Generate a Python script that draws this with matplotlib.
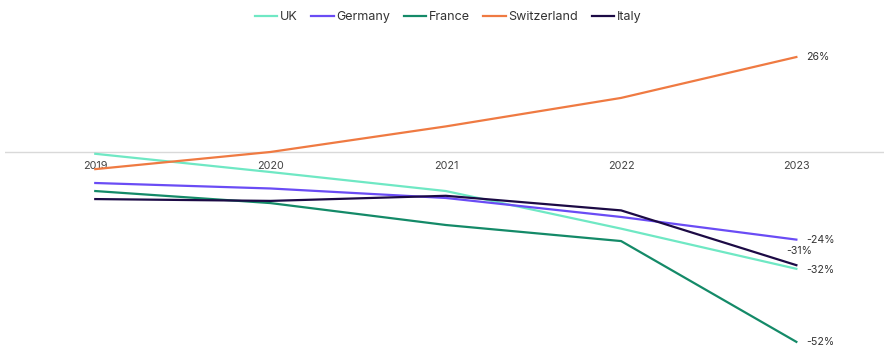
import matplotlib.pyplot as plt

plt.rcParams['font.family'] = ['Inter', 'DejaVu Sans']

years = ['2019', '2020', '2021', '2022', '2023']
uk = [-0.5, -5.5, -10.7, -21.0, -32]
germany = [-8.5, -10.0, -12.6, -17.8, -24]
france = [-10.7, -14.0, -20.0, -24.4, -52]
switzerland = [-4.7, 0.0, 7.0, 14.8, 26]
italy = [-12.9, -13.4, -12.0, -16.0, -31]

series = [
    ('UK', uk, '#6fe8c4'),
    ('Germany', germany, '#6a4cf5'),
    ('France', france, '#148a68'),
    ('Switzerland', switzerland, '#ef7a42'),
    ('Italy', italy, '#1c0a45'),
]

fig = plt.figure(figsize=(8.96, 3.64), dpi=100)
ax = fig.add_axes([5 / 896, 9 / 364, 879 / 896, 325 / 364])
for s in ax.spines.values():
    s.set_visible(False)
ax.spines['bottom'].set_position(('data', 0))

x = list(range(len(years)))
for name, vals, color in series:
    ax.plot(x, vals, color=color, lw=1.6, label=name)

# end labels
offsets = {'UK': (7, -1), 'Germany': (7, 0), 'France': (7, 0),
           'Switzerland': (7, 0), 'Italy': (-7, 10)}
for name, vals, color in series:
    dx, dy = offsets[name]
    ax.annotate(f'{vals[-1]:.0f}%', (x[-1], vals[-1]), xytext=(dx, dy),
                textcoords='offset points', va='center', fontsize=7.6,
                color='#333333')

ax.axhline(0, color='#d9d9d9', lw=1, zorder=0)
ax.set_xlim(-0.515, 4.5)
ax.set_ylim(-55.6, 33.4)
ax.set_xticks(x)
ax.set_xticklabels(years, fontsize=7.8, color='#444444')
ax.tick_params(axis='x', length=0, pad=6.5)
ax.set_yticks([])

fig.legend(loc='center', bbox_to_anchor=(0.5, 1 - 17 / 364), ncol=5,
           frameon=False, fontsize=9, handlelength=1.8, handletextpad=0.2,
           columnspacing=1.1, labelcolor='#333333')

fig.savefig('out.png', dpi=100)
